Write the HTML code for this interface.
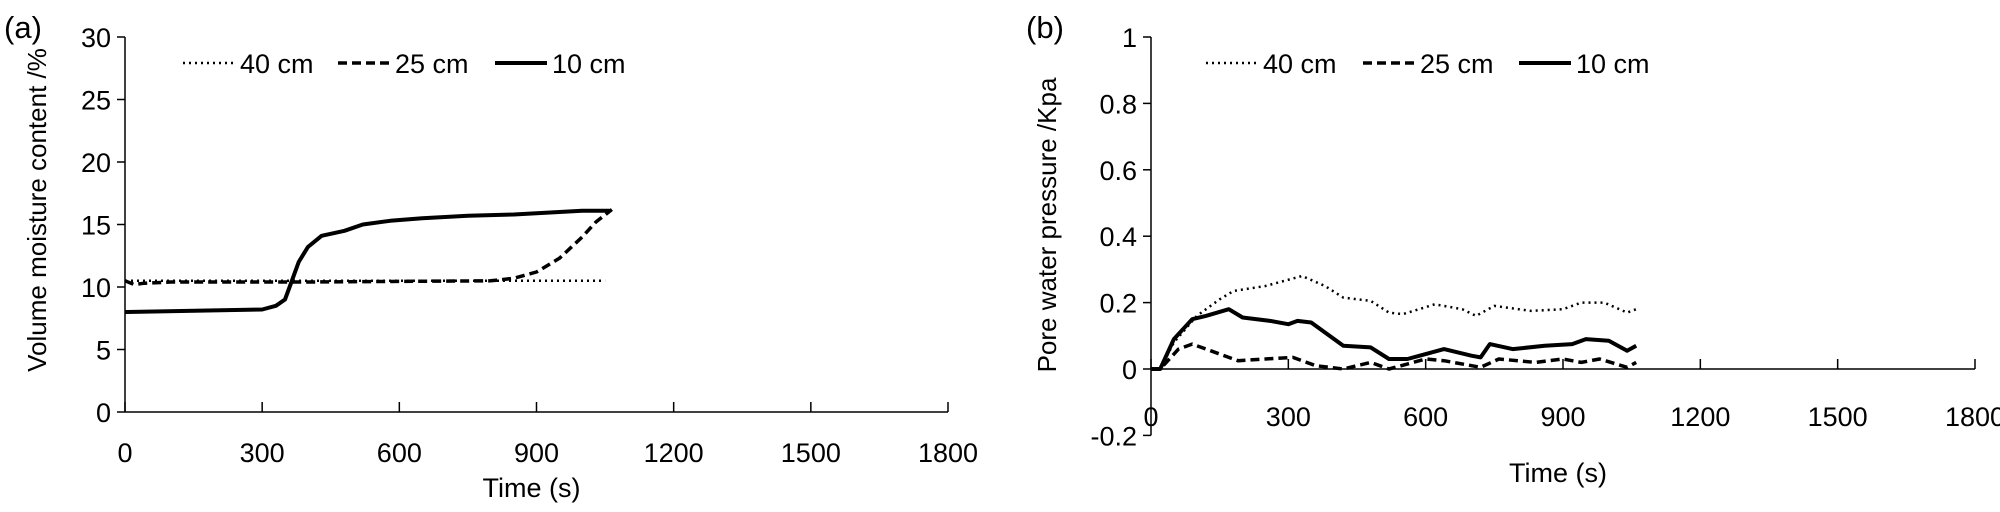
<!DOCTYPE html>
<html><head><meta charset="utf-8"><style>
html,body{margin:0;padding:0;background:#fff;}
svg{display:block;font-family:"Liberation Sans",sans-serif;}
</style></head><body>
<svg id="chart" width="2000" height="512" viewBox="0 0 2000 512" xmlns="http://www.w3.org/2000/svg"></svg>
<script>
// ---- data ----
const xTicks = [0,300,600,900,1200,1500,1800];
const aYTicks = [0,5,10,15,20,25,30];
const bYTicks = [-0.2,0,0.2,0.4,0.6,0.8,1];
const bYTickLabels = ["-0.2","0","0.2","0.4","0.6","0.8","1"];
const seriesNames = ["40 cm","25 cm","10 cm"];

const a40t = [0,100,300,500,700,900,1050];
const a40v = [10.5,10.5,10.5,10.5,10.5,10.5,10.5];
const a25t = [0,20,40,100,400,800,850,900,950,1000,1030,1065];
const a25v = [10.5,10.2,10.3,10.4,10.4,10.5,10.7,11.2,12.3,14,15.2,16.2];
const a10t = [0,300,330,350,360,380,400,430,480,520,580,650,750,850,950,1000,1060];
const a10v = [8,8.2,8.5,9,10,12,13.2,14.1,14.5,15,15.3,15.5,15.7,15.8,16,16.1,16.1];

const b40t = [0,20,50,100,150,180,250,330,380,420,480,520,550,620,680,710,750,830,900,940,990,1040,1060];
const b40v = [0,0,0.08,0.16,0.21,0.235,0.25,0.28,0.25,0.215,0.205,0.17,0.165,0.195,0.18,0.16,0.19,0.175,0.18,0.2,0.2,0.17,0.18];
const b25t = [0,20,60,90,130,190,250,310,360,420,480,520,600,640,720,760,840,900,940,980,1040,1060];
const b25v = [0,0,0.06,0.075,0.055,0.025,0.03,0.035,0.01,0,0.02,0,0.03,0.025,0.005,0.03,0.02,0.03,0.02,0.03,0.005,0.02];
const b10t = [0,20,50,90,120,170,200,260,300,320,350,420,480,520,560,600,640,700,720,740,790,860,920,950,1000,1040,1060];
const b10v = [0,0,0.09,0.15,0.16,0.18,0.155,0.145,0.135,0.145,0.14,0.07,0.065,0.03,0.03,0.045,0.06,0.04,0.035,0.075,0.06,0.07,0.075,0.09,0.085,0.055,0.07];

const NS="http://www.w3.org/2000/svg";
const svg=document.getElementById('chart');
function el(tag,attrs,parent){const e=document.createElementNS(NS,tag);for(const k in attrs)e.setAttribute(k,attrs[k]);(parent||svg).appendChild(e);return e;}
function txt(s,attrs,parent){const t=el('text',attrs,parent);t.textContent=s;return t;}
const styles=[{w:2.5,d:"2 4"},{w:3.5,d:"9 5"},{w:4,d:""}];

function panel(cfg){
  const g=el('g',{});
  
  
  const X=t=>cfg.x0+(t-0)/1800*(cfg.x1-cfg.x0);
  const Y=v=>cfg.yZero-(v-0)/(cfg.ymax)*(cfg.yZero-cfg.yTop);
  const yAxis=el('line',{x1:cfg.x0,y1:Y(cfg.ymin),x2:cfg.x0,y2:cfg.yTop,stroke:'#000','stroke-width':1.5},g);
  
  const xAxis=el('line',{x1:cfg.x0,y1:cfg.yZero,x2:cfg.x1,y2:cfg.yZero,stroke:'#000','stroke-width':1.5},g);
  
  xTicks.forEach(t=>{
    el('line',{x1:X(t),y1:cfg.yZero,x2:X(t),y2:cfg.yZero-10,stroke:'#000','stroke-width':1.5},g);
    const l=txt(String(t),{x:X(t),y:cfg.xLabelY,'font-size':27,'text-anchor':'middle'},g);
    
  });
  cfg.yTicks.forEach((v,i)=>{
    el('line',{x1:cfg.x0-8,y1:Y(v),x2:cfg.x0,y2:Y(v),stroke:'#000','stroke-width':1.5},g);
    const l=txt(cfg.yLabels[i],{x:cfg.x0-14,y:Y(v)+10,'font-size':27,'text-anchor':'end'},g);
    
  });
  const xt=txt('Time (s)',{x:(cfg.x0+cfg.x1)/2-5,y:cfg.xTitleY,'font-size':27,'text-anchor':'middle'},g);
  
  const yt=txt(cfg.ytitle,{x:0,y:0,'font-size':cfg.ytFont,'text-anchor':'middle',transform:`translate(${cfg.ytX},${cfg.ytY}) rotate(-90)`},g);
  
  const pl=txt(cfg.label,{x:cfg.labelX,y:38,'font-size':31},g);
  
  cfg.series.forEach((s,i)=>{
    const pts=s[0].map((t,j)=>X(t).toFixed(1)+','+Y(s[1][j]).toFixed(1)).join(' ');
    const p=el('polyline',{points:pts,fill:'none',stroke:'#000','stroke-width':styles[i].w,'stroke-dasharray':styles[i].d,'stroke-linejoin':'round'},g);
    
    
    const lx=cfg.legX[i];
    const lg=el('g',{},g);
    
    
    el('line',{x1:lx,y1:63,x2:lx+52,y2:63,stroke:'#000','stroke-width':styles[i].w,'stroke-dasharray':styles[i].d},lg);
    txt(seriesNames[i],{x:lx+57,y:73,'font-size':27},lg);
  });
}
panel({name:'panel-a',label:'(a)',labelX:4,x0:125,x1:948,yZero:412,yTop:37,ymax:30,ymin:0,
  yTicks:aYTicks,yLabels:aYTicks.map(String),xLabelY:462,xTitleY:497,
  ytitle:'Volume moisture content /%',ytFont:26,ytX:46,ytY:210,legX:[183,338,495],
  series:[[a40t,a40v],[a25t,a25v],[a10t,a10v]]});
panel({name:'panel-b',label:'(b)',labelX:1026,x0:1151,x1:1975,yZero:369,yTop:37,ymax:1,ymin:-0.2,
  yTicks:bYTicks,yLabels:bYTickLabels,xLabelY:426,xTitleY:482,
  ytitle:'Pore water pressure /Kpa',ytFont:26,ytX:1056,ytY:225,legX:[1206,1363,1519],
  series:[[b40t,b40v],[b25t,b25v],[b10t,b10v]]});
</script>
</body></html>
